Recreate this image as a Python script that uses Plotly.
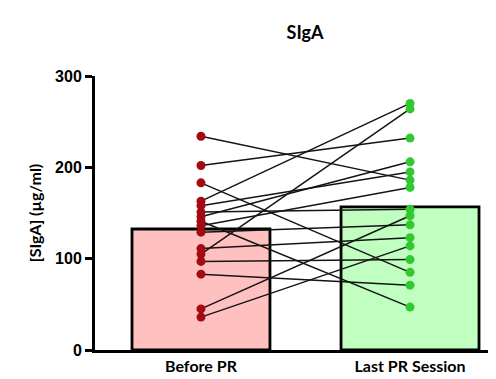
import numpy as np
import plotly.graph_objects as go

categories = ["Before PR", "Last PR Session"]
before_pr = [234, 202, 183, 163, 158, 151, 146, 141, 136, 129, 111, 105, 97, 83, 45, 36]
last_pr = [186, 232, 85, 270, 195, 154, 206, 47, 178, 137, 123, 264, 99, 71, 147, 114]
y_ticks = [0, 100, 200, 300]

xpos = [0, 1]
means = [float(np.mean(before_pr)), float(np.mean(last_pr))]

fig = go.Figure()
fig.add_trace(go.Bar(
    x=xpos, y=means, width=0.66,
    marker=dict(color=["rgb(255,192,192)", "rgb(192,255,192)"],
                line=dict(color="black", width=2.8)),
    hoverinfo="skip", showlegend=False))

lx, ly = [], []
for b, a in zip(before_pr, last_pr):
    lx += [0, 1, None]
    ly += [b, a, None]
fig.add_trace(go.Scatter(x=lx, y=ly, mode="lines",
                         line=dict(color="rgb(20,20,20)", width=1.5),
                         showlegend=False, hoverinfo="skip"))
fig.add_trace(go.Scatter(x=[0] * len(before_pr), y=before_pr, mode="markers",
                         marker=dict(color="rgb(165,10,20)", size=9),
                         showlegend=False, cliponaxis=False))
fig.add_trace(go.Scatter(x=[1] * len(last_pr), y=last_pr, mode="markers",
                         marker=dict(color="rgb(50,200,50)", size=9),
                         showlegend=False, cliponaxis=False))

fig.update_layout(
    width=496, height=379,
    margin=dict(l=87, r=16, t=68, b=33),
    plot_bgcolor="white", paper_bgcolor="white",
    title=dict(text="<b>SIgA</b>", x=297 / 496, xanchor="center", y=1 - 25 / 379, yanchor="middle",
               font=dict(family="Lato, Open Sans, sans-serif", size=18, color="black")),
    xaxis=dict(range=[-0.507, 1.373], tickmode="array", tickvals=xpos,
               ticktext=["<b>" + c + "</b>" for c in categories],
               showline=True, linecolor="black", linewidth=3, ticks="",
               showgrid=False, zeroline=False,
               tickfont=dict(family="Lato, Open Sans, sans-serif", size=16, color="black")),
    yaxis=dict(range=[0, 300], tickmode="array", tickvals=y_ticks,
               ticktext=["<b>%d</b>" % t for t in y_ticks],
               showline=True, linecolor="black", linewidth=3,
               ticks="outside", ticklen=7, tickwidth=3, tickcolor="black",
               showgrid=False, zeroline=False,
               tickfont=dict(family="Liberation Sans, Arial, sans-serif", size=16, color="black"),
               title=dict(text="<b>[SIgA] (µg/ml)</b>", standoff=10,
                          font=dict(family="Lato, Open Sans, sans-serif", size=16, color="black"))),
)

fig.write_html("out.html")
